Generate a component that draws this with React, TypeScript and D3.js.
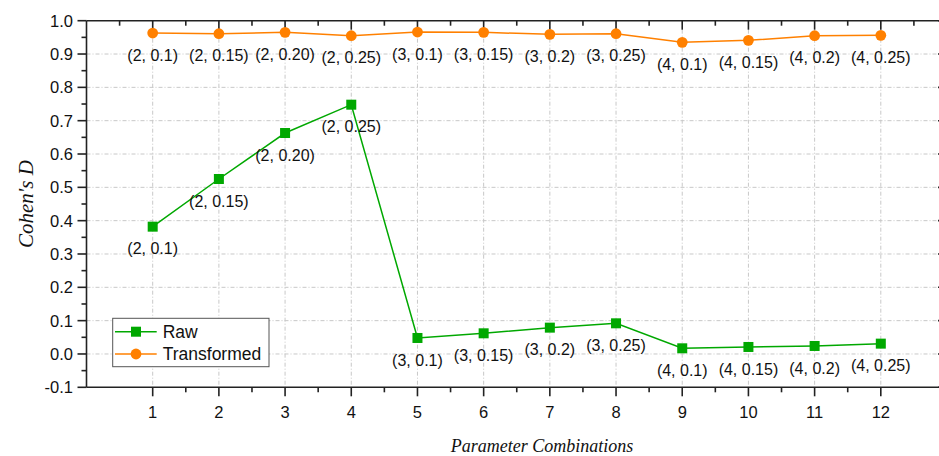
import React from 'react'
import * as d3 from 'd3'

const combos = ['(2, 0.1)', '(2, 0.15)', '(2, 0.20)', '(2, 0.25)', '(3, 0.1)', '(3, 0.15)', '(3, 0.2)', '(3, 0.25)', '(4, 0.1)', '(4, 0.15)', '(4, 0.2)', '(4, 0.25)']
const xIdx = [1, 2, 3, 4, 5, 6, 7, 8, 9, 10, 11, 12]
const rawVals = [0.382, 0.525, 0.663, 0.748, 0.048, 0.062, 0.079, 0.092, 0.017, 0.021, 0.024, 0.031]
const transVals = [0.963, 0.961, 0.965, 0.955, 0.966, 0.965, 0.959, 0.961, 0.935, 0.941, 0.955, 0.956]
const yTicks = [-0.1, 0, 0.1, 0.2, 0.3, 0.4, 0.5, 0.6, 0.7, 0.8, 0.9, 1.0]

const GREEN = '#00a800'
const ORANGE = '#ff8000'
const AXIS = '#222'
const SANS = "'Liberation Sans', Arial, sans-serif"
const SERIF = "'Liberation Serif', 'Times New Roman', serif"

export default function App() {
  const width = 939
  const height = 456
  const x = d3.scaleLinear().domain([0, 13]).range([86.5, 947])
  const y = d3.scaleLinear().domain([-0.1, 1.0]).range([387.3, 20.7])
  const [x0, x1] = x.range()
  const [yb, yt] = y.range()

  const line = d3.line<number>()
    .x((_, i) => x(xIdx[i]))
    .y(d => y(d))

  const yMinor = d3.range(-0.05, 1.0, 0.1)
  const xMinorBottom = d3.range(1.5, 12, 1)
  const xMinorTop = d3.range(0.5, 13, 1)
  const fmt = (t: number) => d3.format('.1f')(t).replace('\u2212', '-')

  return (
    <svg width={width} height={height} style={{ position: 'absolute', left: 0, top: 0, background: '#fff' }}>
      {/* grid */}
      <g stroke="#c8c8c8" strokeWidth={1} strokeDasharray="4,2,1,2">
        {yTicks.filter(t => t > -0.1 && t < 1).map(t => (
          <line key={'gy' + t} x1={x0} x2={x1} y1={y(t)} y2={y(t)} />
        ))}
        {xIdx.map(t => (
          <line key={'gx' + t} x1={x(t)} x2={x(t)} y1={yt} y2={yb} />
        ))}
      </g>

      {/* axes frame */}
      <g stroke={AXIS} strokeWidth={1.6}>
        <line x1={x0} x2={x1} y1={yb} y2={yb} />
        <line x1={x0} x2={x1} y1={yt} y2={yt} />
        <line x1={x0} x2={x0} y1={yt} y2={yb} />
        <line x1={x1} x2={x1} y1={yt} y2={yb} />
        {/* left ticks */}
        {yTicks.map(t => <line key={'ly' + t} x1={x0 - 9} x2={x0} y1={y(t)} y2={y(t)} />)}
        {yMinor.map(t => <line key={'lm' + t} x1={x0 - 5} x2={x0} y1={y(t)} y2={y(t)} />)}
        {/* right ticks */}
        {yTicks.map(t => <line key={'ry' + t} x1={x1 - 9} x2={x1} y1={y(t)} y2={y(t)} />)}
        {/* bottom ticks */}
        {xIdx.map(t => <line key={'bx' + t} x1={x(t)} x2={x(t)} y1={yb} y2={yb + 9} />)}
        {xMinorBottom.map(t => <line key={'bm' + t} x1={x(t)} x2={x(t)} y1={yb} y2={yb + 5} />)}
        {/* top ticks */}
        {xIdx.map(t => <line key={'tx' + t} x1={x(t)} x2={x(t)} y1={yt} y2={yt + 9} />)}
        {xMinorTop.map(t => <line key={'tm' + t} x1={x(t)} x2={x(t)} y1={yt} y2={yt + 5} />)}
      </g>

      {/* tick labels */}
      <g fontFamily={SANS} fontSize={16.5} fill="#111">
        {yTicks.map(t => (
          <text key={'yl' + t} x={73} y={y(t)} dy="0.36em" textAnchor="end">{fmt(t)}</text>
        ))}
        {xIdx.map(t => (
          <text key={'xl' + t} x={x(t)} y={418} textAnchor="middle">{t}</text>
        ))}
      </g>

      {/* axis titles */}
      <text x={542} y={452} fontFamily={SERIF} fontStyle="italic" fontSize={18} textAnchor="middle" fill="#111">Parameter Combinations</text>
      <text transform={`translate(33,${y(0.45)}) rotate(-90)`} fontFamily={SERIF} fontStyle="italic" fontSize={21} textAnchor="middle" fill="#111">Cohen's D</text>

      {/* series */}
      <path d={line(rawVals) || ''} fill="none" stroke={GREEN} strokeWidth={1.5} />
      <path d={line(transVals) || ''} fill="none" stroke={ORANGE} strokeWidth={1.5} />
      {rawVals.map((v, i) => (
        <rect key={'rp' + i} x={x(xIdx[i]) - 5} y={y(v) - 5} width={10} height={10} fill={GREEN} />
      ))}
      {transVals.map((v, i) => (
        <circle key={'tp' + i} cx={x(xIdx[i])} cy={y(v)} r={5.4} fill={ORANGE} />
      ))}

      {/* point labels */}
      <g fontFamily={SANS} fontSize={16} fill="#111" textAnchor="middle">
        {rawVals.map((v, i) => (
          <text key={'rl' + i} x={x(xIdx[i])} y={y(v) + 22} dy="0.36em">{combos[i]}</text>
        ))}
        {transVals.map((v, i) => (
          <text key={'tl' + i} x={x(xIdx[i])} y={y(v) + 22} dy="0.36em">{combos[i]}</text>
        ))}
      </g>

      {/* legend */}
      <g>
        <rect x={112.7} y={318.3} width={156.3} height={48.4} fill="#fff" stroke="#555" strokeWidth={1} />
        <line x1={115} x2={156.7} y1={331.7} y2={331.7} stroke={GREEN} strokeWidth={1.5} />
        <rect x={131} y={326.7} width={10} height={10} fill={GREEN} />
        <text x={162.7} y={331.7} dy="0.36em" fontFamily={SANS} fontSize={17.5} fill="#111">Raw</text>
        <line x1={115} x2={156.7} y1={354} y2={354} stroke={ORANGE} strokeWidth={1.5} />
        <circle cx={136} cy={354} r={5.4} fill={ORANGE} />
        <text x={162.7} y={354} dy="0.36em" fontFamily={SANS} fontSize={17.5} fill="#111">Transformed</text>
      </g>
    </svg>
  )
}
